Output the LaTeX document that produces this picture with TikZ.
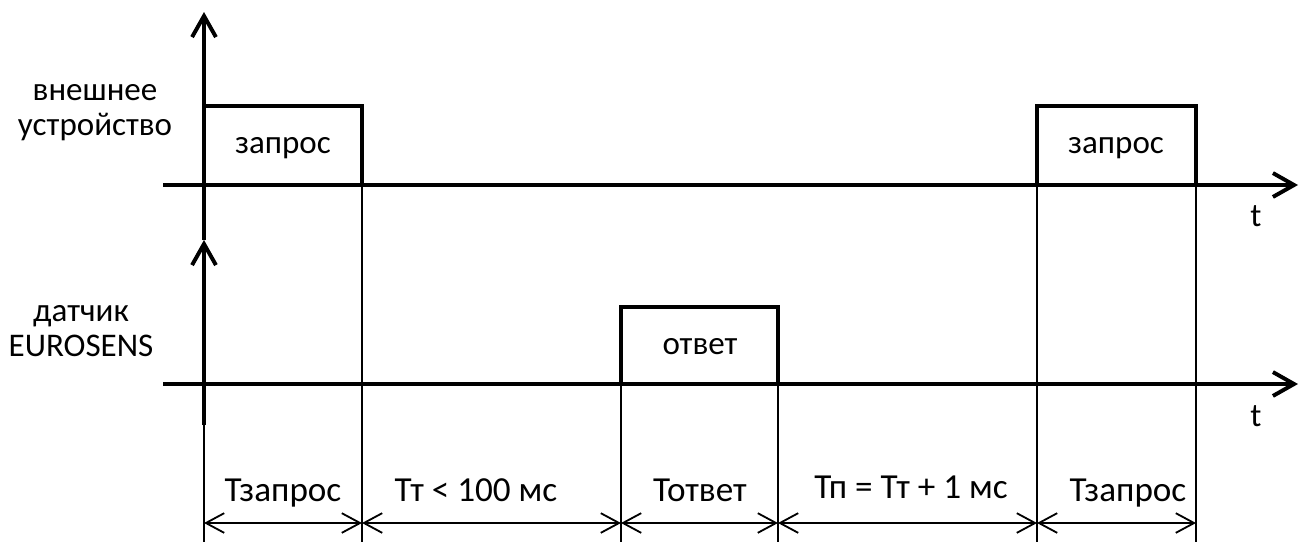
\documentclass[tikz,border=0pt]{standalone}
\usepackage{fontspec}
\setmainfont{Carlito}
\usetikzlibrary{arrows.meta}
\tikzset{
    axis/.style={line width=2.8pt, line cap=butt, -{Straight Barb[length=15pt,width=17pt,line width=2.8pt]}},
    pulse/.style={line width=2.8pt, line join=miter},
    extline/.style={line width=1.4pt},
    dimline/.style={line width=1.3pt, {Straight Barb[length=13pt,width=14pt]}-{Straight Barb[length=13pt,width=14pt]}},
    lbl/.style={font=\fontsize{23.5}{25}\selectfont, inner sep=0pt, align=center},
    durlbl/.style={font=\fontsize{25}{30}\selectfont, inner sep=0pt, anchor=base}
}

\begin{document}
\begin{tikzpicture}[x=0.025cm, y=-0.025cm]
        \useasboundingbox (0,0) rectangle (1302,542);
        % time marks
        \coordinate (t0) at (204,185);
        \coordinate (t1) at (362,185);
        \coordinate (t2) at (621,384);
        \coordinate (t3) at (778,384);
        \coordinate (t4) at (1037,185);
        \coordinate (t5) at (1196,185);
        % dimension line
        \coordinate (d0) at (204,523);
        \coordinate (d1) at (362,523);
        \coordinate (d2) at (621,523);
        \coordinate (d3) at (778,523);
        \coordinate (d4) at (1037,523);
        \coordinate (d5) at (1196,523);
        % axes
        \draw[axis] (204,425) -- (204,240) coordinate (ytop2);
        \draw[axis] (ytop2) -- (204,12);
        \draw[axis] (163,185) -- (1298,185) coordinate (xend1);
        \draw[axis] (163,384) -- (1298,384) coordinate (xend2);
        \node[lbl] (t1lbl) at (1256,216) {t};
        \node[lbl] (t2lbl) at (1256,416) {t};
        \node[lbl] (dev) at (95,113) {внешнее\\устройство};
        \node[lbl] (sens) at (81,331) {датчик\\EUROSENS};
        % pulses
        \draw[pulse] (204,106) -- (362,106) -- (t1);
        \draw[pulse] (t4) -- (1037,106) -- (1196,106) -- (t5);
        \draw[pulse] (t2) -- (621,307) -- (778,307) -- (t3);
        \node[lbl] (req1) at (283,148) {запрос};
        \node[lbl] (resp) at (700,347) {ответ};
        \node[lbl] (req2) at (1116,148) {запрос};
        % extension lines
        \draw[extline] (204,425) -- (204,542);
        \draw[extline] (t1) -- (362,542);
        \draw[extline] (t2) -- (621,542);
        \draw[extline] (t3) -- (778,542);
        \draw[extline] (t4) -- (1037,542);
        \draw[extline] (t5) -- (1196,542);
        % intervals
        \draw[dimline] (d0) -- (d1);
        \draw[dimline] (d1) -- (d2);
        \draw[dimline] (d2) -- (d3);
        \draw[dimline] (d3) -- (d4);
        \draw[dimline] (d4) -- (d5);
        \node[durlbl] (treq1) at (283,501) {Тзапрос};
        \node[durlbl] (twait) at (476,501) {Тт < 100 мс};
        \node[durlbl] (tresp) at (700,501) {Тответ};
        \node[durlbl] (tpause) at (911,498) {Тп = Тт + 1 мс};
        \node[durlbl] (treq2) at (1128,501) {Тзапрос};
\end{tikzpicture}
\end{document}
